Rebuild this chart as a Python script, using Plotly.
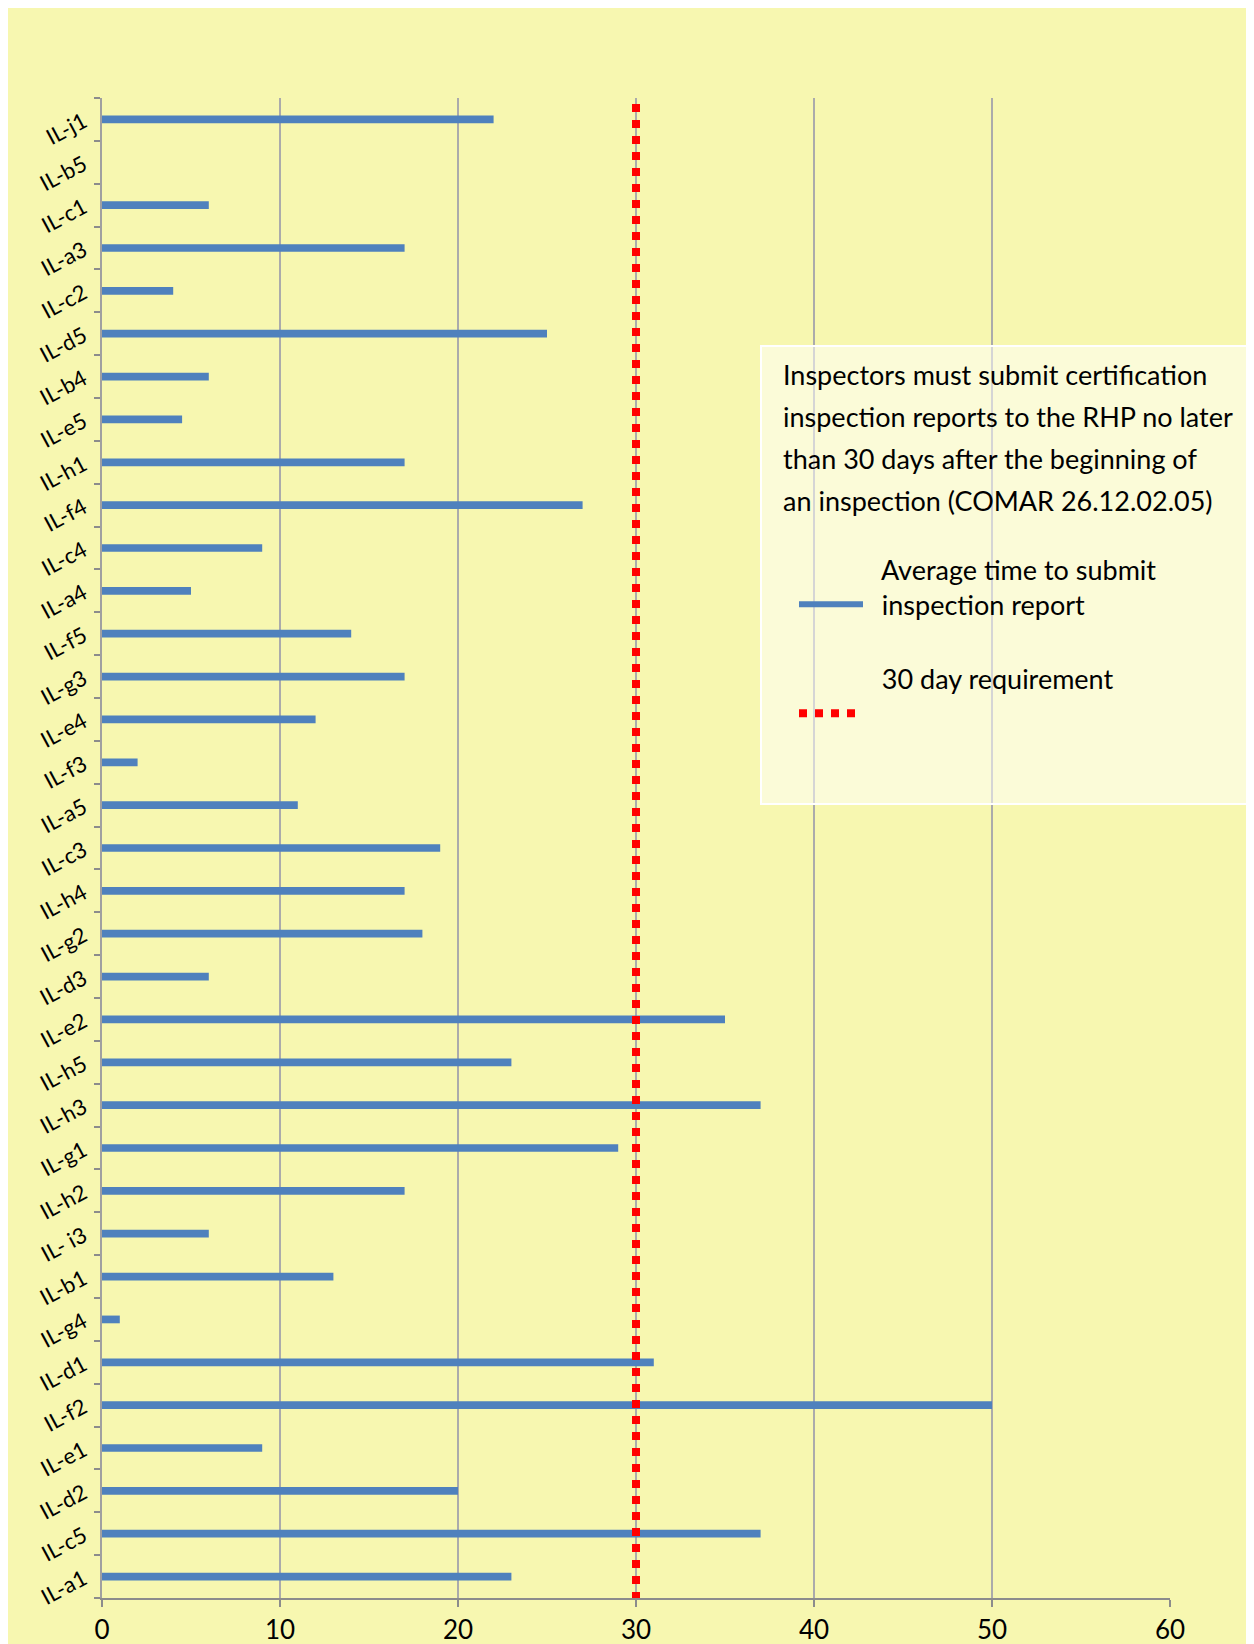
import plotly.graph_objects as go

# Categories listed bottom -> top (as drawn on the category axis)
inspectors = ["IL-a1", "IL-c5", "IL-d2", "IL-e1", "IL-f2", "IL-d1", "IL-g4", "IL-b1",
              "IL- i3", "IL-h2", "IL-g1", "IL-h3", "IL-h5", "IL-e2", "IL-d3", "IL-g2",
              "IL-h4", "IL-c3", "IL-a5", "IL-f3", "IL-e4", "IL-g3", "IL-f5", "IL-a4",
              "IL-c4", "IL-f4", "IL-h1", "IL-e5", "IL-b4", "IL-d5", "IL-c2", "IL-a3",
              "IL-c1", "IL-b5", "IL-j1"]
avg_days = [23, 37, 20, 9, 50, 31, 1, 13,
            6, 17, 29, 37, 23, 35, 6, 18,
            17, 19, 11, 2, 12, 17, 14, 5,
            9, 27, 17, 4.5, 6, 25, 4, 17,
            6, None, 22]
requirement_days = [30, 30]
requirement_span = [-0.0013, 1.0067]
x_ticks = [0, 10, 20, 30, 40, 50, 60]

PAD = "&nbsp;&nbsp;"
series_name = PAD + "Average time to submit<br>" + PAD + "inspection report"
req_name = PAD + "30 day requirement<br>&nbsp;"
note_lines = ["Inspectors must submit certification",
              "inspection reports to the RHP no later",
              "than 30 days after the beginning of",
              "an inspection (COMAR 26.12.02.05)"]

OFF = 8  # page body margin
W, H = 1254 - OFF, 1644 - OFF
ML, MT = 102 - OFF, 98 - OFF
MR = W - (1170 - OFF)
MB = H - (1598 - OFF)
PW, PH = W - ML - MR, H - MT - MB


def px_x(x):  # page pixel -> paper fraction
    return (x - OFF - ML) / PW


def px_y(y):
    return 1 - (y - OFF - MT) / PH


BG = "#F7F7B0"
BLUE = "#4F81BD"
FONT = "Lato"

fig = go.Figure()
fig.add_trace(go.Bar(
    x=avg_days, y=inspectors, orientation="h",
    marker=dict(color=BLUE, line=dict(width=0)),
    showlegend=False, name="Average time to submit inspection report"))
# legend key for the bar series
fig.add_trace(go.Scatter(
    x=[None], y=[None], mode="lines", name=series_name,
    line=dict(color=BLUE, width=6), showlegend=True, legendgroup="a"))
fig.add_trace(go.Scatter(
    x=requirement_days, y=requirement_span, yaxis="y2", mode="lines",
    name=req_name, line=dict(color="#FF0000", width=8, dash="dot"),
    cliponaxis=False, showlegend=True, legendgroup="b"))

# legend box
fig.add_shape(type="rect", xref="paper", yref="paper", layer="above",
              x0=px_x(761), x1=px_x(1262), y0=px_y(804), y1=px_y(346),
              fillcolor="rgba(255,255,255,0.5)", line=dict(color="white", width=2))

for i, line in enumerate(note_lines):
    fig.add_annotation(xref="paper", yref="paper", x=px_x(781), y=px_y(375 + i * 41.7),
                       xanchor="left", yanchor="middle", showarrow=False, text=line,
                       font=dict(family=FONT, size=27, color="black"))

fig.update_layout(
    width=W, height=H,
    margin=dict(l=ML, r=MR, t=MT, b=MB, autoexpand=False),
    paper_bgcolor=BG, plot_bgcolor=BG,
    bargap=0.82,
    font=dict(family=FONT, color="black"),
    xaxis=dict(range=[0, 60], tickvals=x_ticks, showgrid=True, gridcolor="#ABABAB",
               gridwidth=2, zeroline=False, showline=True, linecolor="#8C8C8C",
               linewidth=2, ticks="outside", ticklen=7, tickcolor="#8C8C8C",
               tickwidth=2, ticklabelstandoff=1,
               tickfont=dict(size=26, family=FONT), automargin=False),
    yaxis=dict(type="category", categoryorder="array", categoryarray=inspectors,
               range=[-0.5, len(inspectors) - 0.5], showline=True, linecolor="#A0A0A0",
               linewidth=2, ticks="outside", ticklen=6, tickcolor="#8C8C8C", tickwidth=1.5,
               tickson="boundaries", tickangle=-28, ticklabelstandoff=12,
               tickfont=dict(size=22, family=FONT),
               showgrid=False, automargin=False),
    yaxis2=dict(overlaying="y", range=[0, 1], visible=False, fixedrange=True),
    legend=dict(x=px_x(794), y=px_y(545), xanchor="left", yanchor="top",
                bgcolor="rgba(0,0,0,0)", borderwidth=0, itemwidth=64,
                valign="bottom", tracegroupgap=36,
                font=dict(family=FONT, size=27, color="black")),
)

fig.write_html("out.html")
